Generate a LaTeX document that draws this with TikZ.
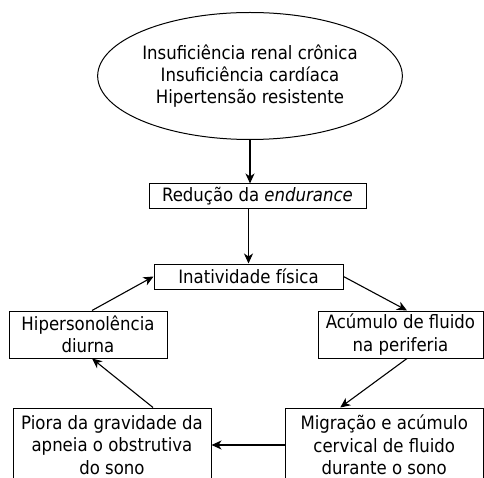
\documentclass[tikz,border=0pt]{standalone}
\usepackage{fontspec}
\setmainfont{DejaVu Sans Condensed}
\usetikzlibrary{shapes.geometric,arrows.meta,calc}
\begin{document}
\begin{tikzpicture}[x=1pt,y=-1pt,
  every node/.style={font=\fontsize{18.4}{22.3}\selectfont, align=center, inner sep=0pt, line width=1pt},
  box/.style={draw, rectangle},
  arr/.style={line width=1.1pt, -{Stealth[length=10pt,width=9pt,inset=3pt]}}]
\useasboundingbox (0,0) rectangle (484,478);
\clip (0,0) rectangle (484,478);
\node[draw, ellipse, minimum width=298, minimum height=127] (ell) at (250,76)
  {Insuficiência renal crônica\\Insuficiência cardíaca\\Hipertensão resistente};
\node[box, minimum width=217, minimum height=25] (red) at (257.5,196.5) {Redução da \emph{endurance}};
\node[box, minimum width=189, minimum height=25] (ina) at (248.5,276.5) {Inatividade física};
\node[box, minimum width=158, minimum height=47] (hip) at (88,334.5) {Hipersonolência\\diurna};
\node[box, minimum width=165, minimum height=47] (acu) at (400.5,334.5) {Acúmulo de fluido\\na periferia};
\node[box, minimum width=198, minimum height=74] (pio) at (112,445) {Piora da gravidade da\\apneia o obstrutiva\\do sono};
\node[box, minimum width=198.5, minimum height=74] (mig) at (384.25,445) {Migração e acúmulo\\cervical de fluido\\durante o sono};
\draw[arr] (ell.south) -- (ell.south |- red.north);
\draw[arr] (ina.north |- red.south) -- (ina.north);
\draw[arr] ($(hip.north)+(4,0)$) -- (ina.west);
\draw[arr] (ina.east) -- ($(acu.north)+(6.5,0)$);
\draw[arr] ($(acu.south)+(6.5,0)$) -- ($(mig.north)+(-44,0)$);
\draw[arr] (mig.west) -- (pio.east);
\draw[arr] ($(pio.north)+(41,0)$) -- ($(hip.south)+(4,0)$);
\end{tikzpicture}
\end{document}
